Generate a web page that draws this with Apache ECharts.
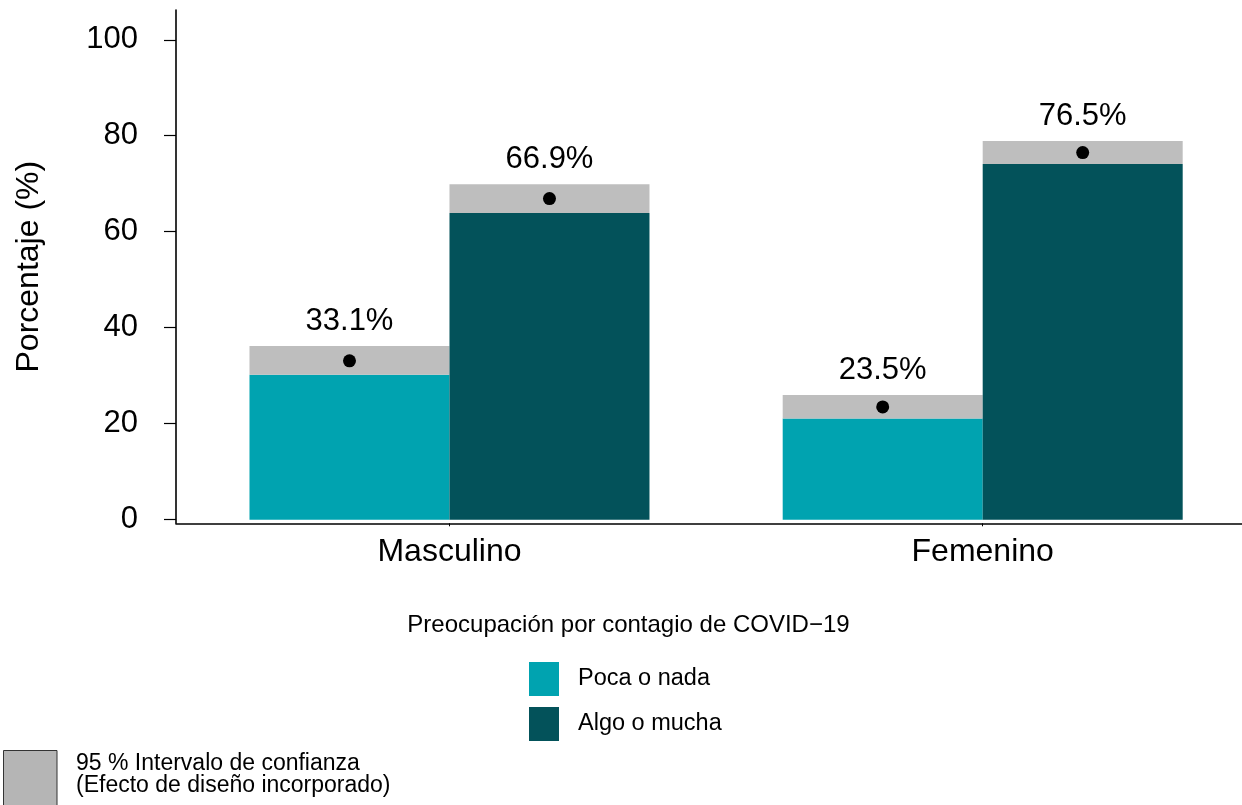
<!DOCTYPE html>
<html>
<head>
<meta charset="utf-8">
<script src="https://cdn.jsdelivr.net/npm/echarts@6/dist/echarts.min.js"></script>
<style>
html,body{margin:0;padding:0;background:#fff;}
#chart{width:1242px;height:805px;}
</style>
</head>
<body>
<div id="chart"></div>
<script>
// ---- data ----
const categories = ['Masculino', 'Femenino'];
const seriesNames = ['Poca o nada', 'Algo o mucha'];
const pocaPoint = [33.1, 23.5];
const pocaLower = [30.2, 21.1];
const pocaUpper = [36.2, 26.0];
const algoPoint = [66.9, 76.5];
const algoLower = [63.9, 74.1];
const algoUpper = [69.9, 78.9];
const yTicks = [0, 20, 40, 60, 80, 100];
const yAxisName = 'Porcentaje (%)';
const legendTitle = 'Preocupación por contagio de COVID−19';
const ciLegend = ['95 % Intervalo de confianza', '(Efecto de diseño incorporado)'];

// ---- style ----
const FONT = '"Liberation Sans", Arial, Helvetica, sans-serif';
const TEAL = '#00a3b0';
const DARK = '#03525a';
const GREY = '#bebebe';
const BAR_W = 200;
const catX = categories.map((c, i) => i + 1);

const chart = echarts.init(document.getElementById('chart'), null, {renderer: 'canvas'});

// one rectangle group per (category, group): bar to lower CI, grey band lower->upper, dot at estimate, label
function makeRender(side, color) {
  return function (params, api) {
    const x = api.value(0);
    const lower = api.value(1), upper = api.value(2), point = api.value(3);
    const p0 = api.coord([x, 0]);
    const pL = api.coord([x, lower]);
    const pU = api.coord([x, upper]);
    const pP = api.coord([x, point]);
    const left = p0[0] + side * BAR_W;
    const cx = left + BAR_W / 2;
    return {
      type: 'group',
      children: [
        {type: 'rect', shape: {x: left, y: pL[1], width: BAR_W, height: p0[1] - pL[1]},
         style: {fill: color}},
        {type: 'rect', shape: {x: left, y: pU[1], width: BAR_W, height: pL[1] - pU[1]},
         style: {fill: GREY}},
        {type: 'circle', shape: {cx: cx, cy: pP[1], r: 6.5}, style: {fill: '#000'}},
        {type: 'text', x: cx, y: pU[1] - 24.5,
         style: {text: point.toFixed(1) + '%', fontFamily: FONT, fontSize: 31, fill: '#000',
                 textAlign: 'center', textVerticalAlign: 'middle'}}
      ]
    };
  };
}

const option = {
  animation: false,
  backgroundColor: '#fff',
  textStyle: {fontFamily: FONT},
  grid: {left: 176, right: 0, top: 10, bottom: 281.7, containLabel: false},
  xAxis: {
    type: 'value', min: 0.4871, max: 2.4863,
    splitLine: {show: false},
    axisLine: {show: true, onZero: false, lineStyle: {color: '#000', width: 1.6}},
    axisTick: {show: true, length: 3, customValues: catX, lineStyle: {color: '#000'}},
    axisLabel: {
      customValues: catX, margin: 13, fontFamily: FONT, fontSize: 32, color: '#000',
      formatter: v => categories[Math.round(v) - 1]
    }
  },
  yAxis: {
    type: 'value', min: -0.75, max: 106.2,
    name: yAxisName, nameLocation: 'middle', nameGap: 131,
    nameTextStyle: {fontFamily: FONT, fontSize: 32, color: '#000'},
    splitLine: {show: false},
    axisLine: {show: true, lineStyle: {color: '#000', width: 1.6}},
    axisTick: {show: true, length: 12, customValues: yTicks, lineStyle: {color: '#000', width: 1.2}},
    axisLabel: {customValues: yTicks, margin: 38, fontFamily: FONT, fontSize: 31, color: '#000'}
  },
  legend: {
    data: seriesNames,
    orient: 'vertical', left: 529, top: 662, padding: 0,
    itemWidth: 30, itemHeight: 34, itemGap: 11,
    icon: 'rect',
    textStyle: {fontFamily: FONT, fontSize: 23.5, color: '#000', padding: [0, 0, 0, 14]}
  },
  series: [
    {name: seriesNames[0], type: 'custom', itemStyle: {color: TEAL},
     encode: {x: 0, y: [1, 2, 3]},
     data: catX.map((x, i) => [x, pocaLower[i], pocaUpper[i], pocaPoint[i]]),
     renderItem: makeRender(-1, TEAL)},
    {name: seriesNames[1], type: 'custom', itemStyle: {color: DARK},
     encode: {x: 0, y: [1, 2, 3]},
     data: catX.map((x, i) => [x, algoLower[i], algoUpper[i], algoPoint[i]]),
     renderItem: makeRender(0, DARK)}
  ],
  graphic: [
    {type: 'text', x: 628.5, y: 625,
     style: {text: legendTitle, fontFamily: FONT, fontSize: 24, fill: '#000',
             textAlign: 'center', textVerticalAlign: 'middle'}},
    {type: 'rect', x: 3.5, y: 750.5,
     shape: {x: 0, y: 0, width: 53.5, height: 70},
     style: {fill: '#b5b5b5', stroke: '#333', lineWidth: 1}},
    {type: 'text', x: 76, y: 764,
     style: {text: ciLegend[0], fontFamily: FONT, fontSize: 23, fill: '#000',
             textAlign: 'left', textVerticalAlign: 'middle'}},
    {type: 'text', x: 76, y: 785.5,
     style: {text: ciLegend[1], fontFamily: FONT, fontSize: 23, fill: '#000',
             textAlign: 'left', textVerticalAlign: 'middle'}}
  ]
};
chart.setOption(option);
</script>
</body>
</html>
